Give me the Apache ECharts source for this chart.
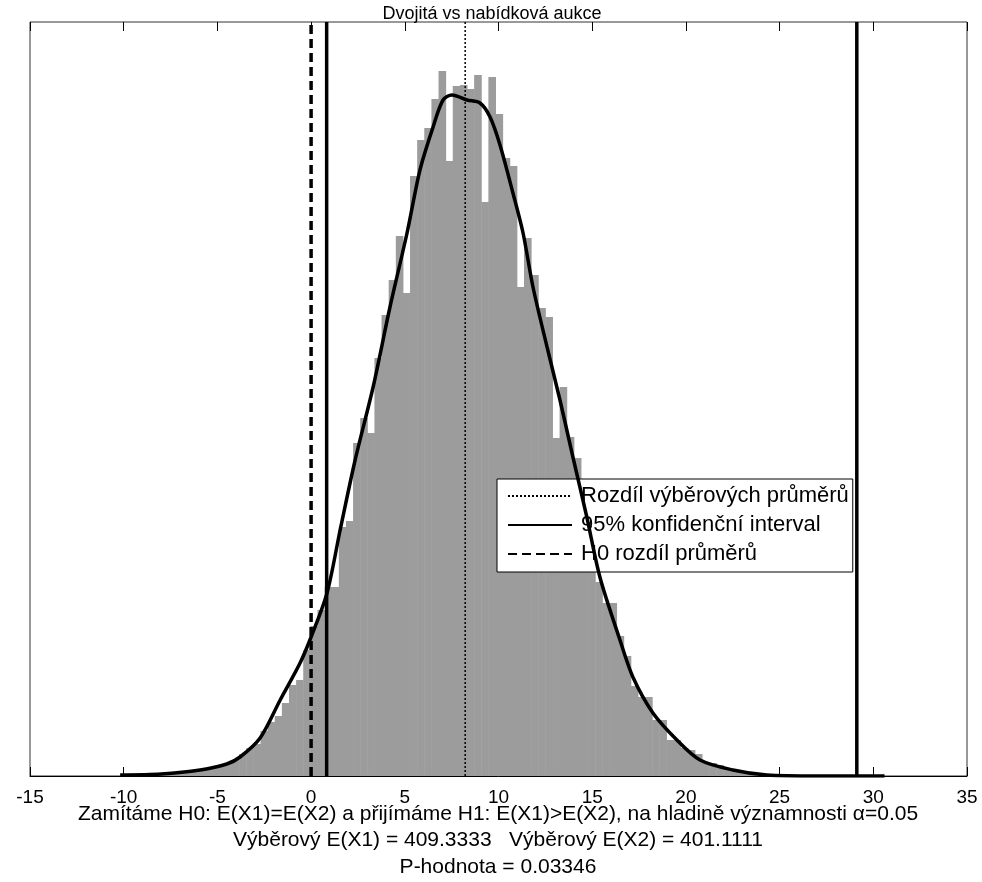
<!DOCTYPE html>
<html>
<head>
<meta charset="utf-8">
<script src="https://cdn.jsdelivr.net/npm/echarts@6/dist/echarts.min.js"></script>
<style>
  html, body { margin: 0; padding: 0; background: #fff; }
  #chart { width: 982px; height: 882px; }
</style>
</head>
<body>
<div id="chart"></div>
<script>
// histogram of the bootstrapped difference of means
const binStart = -9.92;
const binWidth = 0.38;
const binCounts = [
  1, 1, 1, 1, 2, 2, 2, 3, 4, 4,
  5, 7, 9, 11, 13, 16, 22, 28, 32, 45,
  54, 60, 73, 91, 96, 126, 150, 166, 189, 189,
  249, 255, 333, 358, 343, 418, 461, 496, 540, 483,
  600, 636, 648, 677, 705, 615, 690, 691, 687, 701,
  574, 699, 662, 618, 610, 489, 538, 501, 468, 459,
  338, 389, 339, 318, 275, 230, 194, 173, 173, 140,
  120, 90, 79, 79, 56, 56, 36, 36, 28, 26,
  22, 13, 13, 11, 8, 5, 4, 4, 3, 2,
  2, 1, 1, 1, 1, 0, 1, 0, 0, 1,
  0, 0, 1, 0, 0, 0, 1
];

// smoothed density (scaled to the histogram)
const curveX = [-10.19, -8, -5.92, -4.5, -3.79, -2.72, -1.65, -0.59, 0, 0.85,
  1.55, 2.35, 3.31, 4.21, 5.12, 5.81, 6.51, 7.04, 7.52, 8.32,
  9.01, 9.55, 10.08, 10.77, 11.31, 11.84, 12.59, 13.28, 13.97, 14.7,
  15.41, 16.48, 17.17, 18.24, 19.52, 20.75, 22.51, 24.32, 27, 30.6];
const curveY = [1, 2, 6, 12, 19, 38, 76, 113, 139, 183,
  246, 316, 389, 469, 543, 606, 649, 676, 681, 676,
  673, 659, 631, 583, 543, 489, 429, 376, 319, 260,
  199, 136, 99, 63, 36, 16, 6, 1, 0, 0];

const diffMean = 8.2222;
const ciBounds = [0.83, 29.12];
const h0Diff = 0;
const yTop = 754;

const legendNames = ['Rozdíl výběrových průměrů', '95% konfidenční interval', 'H0 rozdíl průměrů'];
const footLines = [
  'Zamítáme H0: E(X1)=E(X2) a přijímáme H1: E(X1)>E(X2), na hladině významnosti α=0.05',
  'Výběrový E(X1) = 409.3333   Výběrový E(X2) = 401.1111',
  'P-hodnota = 0.03346'
];

const font = 'Liberation Sans, Arial, sans-serif';

const bars = binCounts.map((c, i) => [binStart + i * binWidth, binStart + (i + 1) * binWidth, c]);
const curve = curveX.map((x, i) => [x, curveY[i]]);

const vline = (name, x, type, width) => ({
  name: name,
  type: 'line',
  symbol: 'none',
  z: 4,
  data: [[x, 0], [x, yTop]],
  lineStyle: { color: '#000', width: width, type: type },
  itemStyle: { color: '#000' },
  silent: true
});

const chart = echarts.init(document.getElementById('chart'));
chart.setOption({
  animation: false,
  backgroundColor: '#fff',
  title: {
    text: 'Dvojitá vs nabídková aukce',
    left: 487,
    top: 0,
    textAlign: 'center',
    textStyle: { fontFamily: font, fontSize: 18, fontWeight: 'normal', color: '#000' }
  },
  grid: {
    left: 30, right: 15, top: 22, bottom: 106,
    show: true, borderColor: '#333', borderWidth: 1
  },
  legend: {
    data: legendNames,
    orient: 'vertical',
    left: 497,
    top: 479,
    itemWidth: 64,
    itemHeight: 12,
    itemGap: 7,
    padding: [6, 4, 7, 10],
    backgroundColor: '#fff',
    borderColor: '#000',
    borderWidth: 1,
    itemStyle: { opacity: 0 },
    textStyle: { fontFamily: font, fontSize: 22, lineHeight: 22, color: '#000', padding: [0, 0, 0, 4] }
  },
  xAxis: [
    {
      type: 'value', min: -15, max: 35, interval: 5,
      axisLine: { show: true, lineStyle: { color: '#000' } },
      axisTick: { inside: true, length: 9, lineStyle: { color: '#000' } },
      axisLabel: { margin: 12, fontFamily: font, fontSize: 19, color: '#000' },
      splitLine: { show: false }
    },
    {
      type: 'value', min: -15, max: 35, interval: 5, position: 'top',
      axisLine: { show: false },
      axisTick: { inside: true, length: 9, lineStyle: { color: '#000' } },
      axisLabel: { show: false },
      splitLine: { show: false }
    }
  ],
  yAxis: {
    type: 'value', min: 0, max: yTop,
    axisLine: { show: false }, axisTick: { show: false },
    axisLabel: { show: false }, splitLine: { show: false }
  },
  graphic: footLines.map((t, i) => ({
    type: 'text',
    x: 498,
    y: 814 + i * 26.5,
    style: {
      text: t, fill: '#000', font: '21px ' + font,
      textAlign: 'center', textVerticalAlign: 'middle'
    }
  })),
  series: [
    {
      type: 'custom',
      z: 1,
      silent: true,
      data: bars,
      encode: { x: [0, 1], y: 2 },
      renderItem: function (params, api) {
        const p0 = api.coord([api.value(0), 0]);
        const p1 = api.coord([api.value(1), api.value(2)]);
        return {
          type: 'rect',
          shape: { x: p0[0], y: p1[1], width: p1[0] - p0[0] + 0.5, height: p0[1] - p1[1] },
          style: { fill: '#9c9c9c' }
        };
      }
    },
    vline(legendNames[0], diffMean, [2, 2], 1.5),
    vline(legendNames[1], ciBounds[0], 'solid', 3.5),
    vline(legendNames[1], ciBounds[1], 'solid', 3.5),
    vline(legendNames[2], h0Diff, [9, 5], 3.5),
    {
      type: 'line',
      z: 5,
      symbol: 'none',
      smooth: 0.3,
      silent: true,
      data: curve,
      lineStyle: { color: '#000', width: 3.5 }
    }
  ]
});
</script>
</body>
</html>
